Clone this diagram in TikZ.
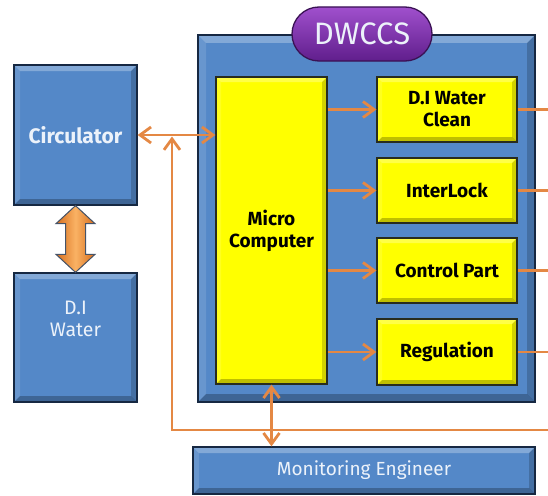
\documentclass[tikz,border=0pt]{standalone}
\usepackage{fontspec}
\setmainfont{Fira Sans}
\usetikzlibrary{arrows.meta,positioning}

\definecolor{boxblue}{RGB}{84,136,200}
\definecolor{boxedge}{RGB}{22,40,66}
\definecolor{yfill}{RGB}{255,255,0}
\definecolor{yedge}{RGB}{40,44,30}
\definecolor{oline}{RGB}{228,136,68}
\definecolor{odark}{RGB}{214,110,30}
\definecolor{olight}{RGB}{250,178,100}
\definecolor{ptop}{RGB}{160,80,205}
\definecolor{pbot}{RGB}{96,30,140}
\definecolor{wtxt}{RGB}{236,242,250}

\tikzset{
  bevel/.style={path picture={
    \fill[white,opacity=.28] (path picture bounding box.north west) -- (path picture bounding box.north east)
      -- ([shift={(-#1,-#1)}]path picture bounding box.north east) -- ([shift={(#1,-#1)}]path picture bounding box.north west) -- cycle;
    \fill[white,opacity=.12] (path picture bounding box.north west) -- (path picture bounding box.south west)
      -- ([shift={(#1,#1)}]path picture bounding box.south west) -- ([shift={(#1,-#1)}]path picture bounding box.north west) -- cycle;
    \fill[black,opacity=.25] (path picture bounding box.south west) -- (path picture bounding box.south east)
      -- ([shift={(-#1,#1)}]path picture bounding box.south east) -- ([shift={(#1,#1)}]path picture bounding box.south west) -- cycle;
    \fill[black,opacity=.18] (path picture bounding box.north east) -- (path picture bounding box.south east)
      -- ([shift={(-#1,#1)}]path picture bounding box.south east) -- ([shift={(-#1,-#1)}]path picture bounding box.north east) -- cycle;
  }},
  bluebox/.style={draw=boxedge, line width=1.3pt, fill=boxblue, bevel=6pt, inner sep=0pt,
    text=wtxt, align=center},
  ybox/.style={draw=yedge, line width=1.3pt, fill=yfill, bevel=5pt, inner sep=0pt,
    minimum width=140pt, minimum height=65pt, font=\fontsize{19}{22}\selectfont\bfseries, align=center},
  pill/.style={draw=pbot!60!black, line width=1.3pt, top color=ptop, bottom color=pbot,
    rounded corners=27pt, minimum width=140pt, minimum height=54pt, inner sep=0pt,
    text=wtxt, font=\fontsize{31}{33}\selectfont},
  oarrow/.style={draw=oline, line width=2.8pt, arrows={-Straight Barb[length=11pt,width=16pt]}},
  obiarrow/.style={oarrow, arrows={Straight Barb[length=11pt,width=16pt]-Straight Barb[length=11pt,width=16pt]}},
  oline/.style={draw=oline, line width=2.8pt},
  bigarr/.style={draw=boxedge!80, line width=1pt, left color=odark, right color=odark, middle color=olight}
}

\begin{document}
\begin{tikzpicture}[x=1pt,y=-1pt]
  \useasboundingbox (0,0) rectangle (548,495);

  % left column
  \node[bluebox, minimum width=123pt, minimum height=140pt, font=\fontsize{21}{24}\selectfont\bfseries] (circ) at (75.5,135) {Circulator};
  \node[bluebox, minimum width=123pt, minimum height=129pt] (diw) at (75.5,337.5) {};
  \node[text=wtxt, align=center, font=\fontsize{19.5}{21.5}\selectfont, below=29pt of diw.north, anchor=north, inner sep=0pt] (diwlbl) {D.I\\Water};

  % DWCCS block
  \node[bluebox, bevel=8pt, minimum width=337pt, minimum height=367pt] (dwccs) at (366.5,218.5) {};
  \node[pill] (title) at (362,34) {DWCCS};
  \node[ybox, minimum width=111pt, minimum height=307pt] (mc) at (271.5,230.5) {Micro\\Computer};
  \node[ybox] (diwc) at (447,109.5) {D.I Water\\Clean};
  \node[ybox] (ilk) at (447,190.5) {InterLock};
  \node[ybox] (ctl) at (447,270.5) {Control Part};
  \node[ybox, minimum height=66pt] (reg) at (447,352) {Regulation};

  \node[bluebox, minimum width=342pt, minimum height=47pt, font=\fontsize{19}{21}\selectfont] (mon) at (364,470.5) {Monitoring Engineer};

  \coordinate (rim) at (548,0);
  \coordinate (busL) at (172,430);
  \coordinate (busR) at (548,430);

  % connectors
  \filldraw[bigarr] (circ.south) -- ([shift={(19.5pt,-18pt)}]circ.south) -- ([shift={(10pt,-18pt)}]circ.south)
    -- ([shift={(10pt,18pt)}]diw.north) -- ([shift={(19.5pt,18pt)}]diw.north) -- (diw.north)
    -- ([shift={(-19.5pt,18pt)}]diw.north) -- ([shift={(-10pt,18pt)}]diw.north)
    -- ([shift={(-10pt,-18pt)}]circ.south) -- ([shift={(-19.5pt,-18pt)}]circ.south) -- cycle;

  \draw[obiarrow] (circ.east) -- (circ.east -| mc.west);
  \draw[oarrow, shorten >=1.5pt] (busR) -- (busL) -- (busL |- circ.east);

  \foreach \b in {diwc,ilk,ctl,reg} {
    \draw[oarrow] (mc.east |- \b.west) -- (\b.west);
    \draw[oline] (\b.east) -- (\b.east -| rim);
  }

  \draw[obiarrow] (mc.south) -- (mc.south |- mon.north);
\end{tikzpicture}
\end{document}
